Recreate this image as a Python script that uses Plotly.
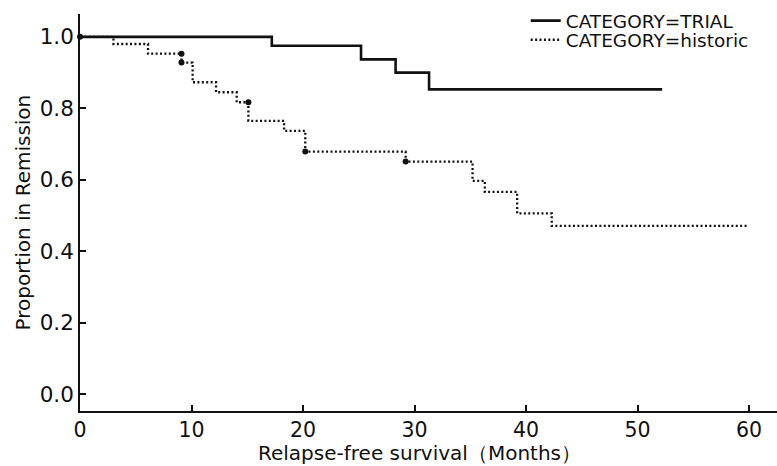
import plotly.graph_objects as go

# ---- data ----
trial_time = [0, 17.2, 25.2, 28.3, 31.3, 52.2]
trial_surv = [1.0, 0.975, 0.937, 0.900, 0.853, 0.853]
trial_cens_time = [0]
trial_cens_surv = [1.0]

hist_time = [0, 3.0, 6.1, 9.1, 10.1, 12.2, 14.05, 15.1, 18.3, 20.2, 29.2, 35.2, 36.3, 39.2, 42.3, 59.9]
hist_surv = [1.0, 0.980, 0.953, 0.928, 0.873, 0.845, 0.817, 0.765, 0.737, 0.679, 0.651, 0.597, 0.566, 0.506, 0.471, 0.471]
hist_cens_time = [9.1, 9.1, 15.1, 20.2, 29.2]
hist_cens_surv = [0.953, 0.928, 0.817, 0.679, 0.651]

x_ticks = [0, 10, 20, 30, 40, 50, 60]
y_ticks = [0.0, 0.2, 0.4, 0.6, 0.8, 1.0]
y_tick_text = ["0.0", "0.2", "0.4", "0.6", "0.8", "1.0"]

x_title = "Relapse-free survival（Months）"
y_title = "Proportion in Remission"

FONT = "DejaVu Sans"
INK = "#111111"

fig = go.Figure()
fig.add_trace(go.Scatter(x=trial_time, y=trial_surv, mode="lines", line_shape="hv",
                         line=dict(color=INK, width=2.6),
                         name="CATEGORY=TRIAL", legend="legend"))
fig.add_trace(go.Scatter(x=hist_time, y=hist_surv, mode="lines", line_shape="hv",
                         line=dict(color=INK, width=2.3, dash="2px,2.4px"),
                         name="CATEGORY=historic", legend="legend2"))
fig.add_trace(go.Scatter(x=hist_cens_time, y=hist_cens_surv, mode="markers",
                         marker=dict(color=INK, size=6), showlegend=False))
fig.add_trace(go.Scatter(x=trial_cens_time, y=trial_cens_surv, mode="markers",
                         marker=dict(color=INK, size=6), showlegend=False, cliponaxis=False))

leg_common = dict(xanchor="left", yanchor="middle", bgcolor="rgba(0,0,0,0)",
                  font=dict(size=18.5, family=FONT, color=INK), itemwidth=30)

fig.update_layout(
    width=777, height=466,
    margin=dict(l=80, r=0, t=14, b=55),
    plot_bgcolor="white", paper_bgcolor="white",
    font=dict(family=FONT, color=INK, size=18),
    showlegend=True,
    legend=dict(x=0.6395, y=0.982, **leg_common),
    legend2=dict(x=0.6395, y=0.934, **leg_common),
    xaxis=dict(range=[0, 62.5], tickvals=x_ticks, ticks="inside", ticklen=6,
               tickwidth=1.5, tickcolor=INK, showline=True, linecolor=INK, linewidth=1.6,
               showgrid=False, zeroline=False, tickfont=dict(size=20.5), automargin=False),
    yaxis=dict(range=[-0.047, 1.064], tickvals=y_ticks, ticktext=y_tick_text,
               ticks="inside", ticklen=6, tickwidth=1.5, tickcolor=INK,
               showline=True, linecolor=INK, linewidth=1.6,
               showgrid=False, zeroline=False, tickfont=dict(size=21.5), automargin=False),
    annotations=[
        dict(text=x_title, xref="paper", yref="paper", x=0.4866, y=-0.1058,
             xanchor="center", yanchor="middle", showarrow=False,
             font=dict(size=20, family=FONT, color=INK)),
        dict(text=y_title, xref="paper", yref="paper", x=-0.0832, y=0.5,
             xanchor="center", yanchor="middle", textangle=-90, showarrow=False,
             font=dict(size=20, family=FONT, color=INK)),
    ],
)

fig.write_html("out.html", config={"displayModeBar": False},
               post_script="document.body.style.margin='0px';")
